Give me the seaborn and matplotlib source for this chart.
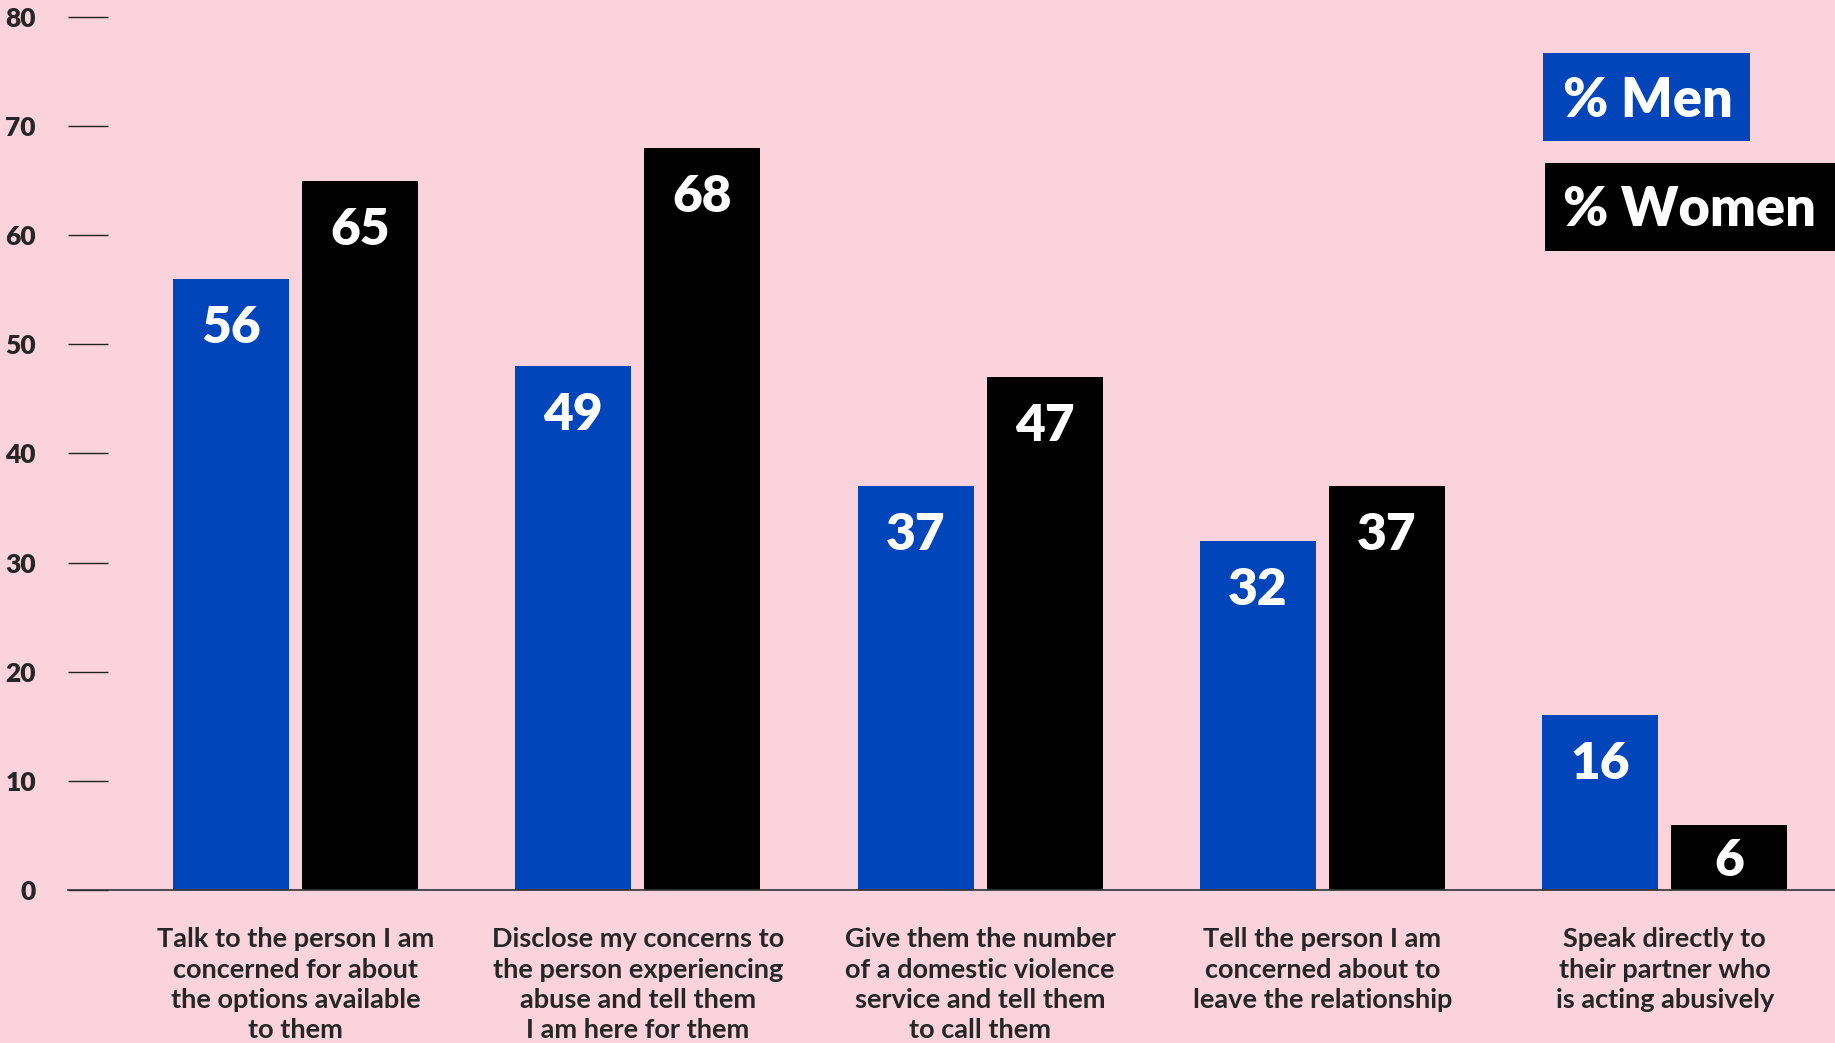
import pandas as pd
import seaborn as sns
import matplotlib.pyplot as plt
from matplotlib.patches import Rectangle

# chart data
actions = [
    "Talk to the person I am\nconcerned for about\nthe options available\nto them",
    "Disclose my concerns to\nthe person experiencing\nabuse and tell them\nI am here for them",
    "Give them the number\nof a domestic violence\nservice and tell them\nto call them",
    "Tell the person I am\nconcerned about to\nleave the relationship",
    "Speak directly to\ntheir partner who\nis acting abusively",
]
# bar heights as drawn in the picture (the 49 bar is drawn at about 48)
men = [56, 48, 37, 32, 16]
women = [65, 68, 47, 37, 6]
# numbers printed on the bars
men_labels = ["56", "49", "37", "32", "16"]
women_labels = ["65", "68", "47", "37", "6"]
groups = ["% Men", "% Women"]
yticks = [0, 10, 20, 30, 40, 50, 60, 70, 80]

PINK = "#FBD3DC"
BLUE = "#0045BA"
BLACK = "#000000"

df = pd.DataFrame({
    "action": actions * 2,
    "pct": men + women,
    "group": [groups[0]] * len(men) + [groups[1]] * len(women),
})

sns.set_style("white")
plt.rcParams["font.family"] = ["Lato", "DejaVu Sans"]

fig = plt.figure(figsize=(18.35, 10.43), dpi=100, facecolor=PINK)
ax = fig.add_axes([0.037, 0.1467, 0.963, 0.837])
ax.set_facecolor(PINK)

sns.barplot(data=df, x="action", y="pct", hue="group", palette=[BLUE, BLACK],
            width=0.754, gap=0.1, saturation=1, legend=False, ax=ax,
            edgecolor="none", linewidth=0)

ax.set_ylim(0, 80)
ax.set_xlim(-0.665, 4.497)
ax.set_xlabel("")
ax.set_ylabel("")
ax.set_yticks(yticks)
ax.tick_params(axis="y", left=True, direction="in", length=29, width=1.0,
               color="#222222", pad=23, labelsize=19)
ax.tick_params(axis="x", bottom=False, length=0, pad=27, labelsize=19.5)
for lab in ax.get_yticklabels():
    lab.set_fontweight("heavy")
for lab in ax.get_xticklabels():
    lab.set_fontweight("bold")
    lab.set_linespacing(1.31)
    lab.set_verticalalignment("top")

sns.despine(ax=ax, left=True)
ax.spines["bottom"].set_color("#333333")
ax.spines["bottom"].set_linewidth(1.2)

# value labels inside the bars
for cont, vals, labs in zip(ax.containers, [men, women], [men_labels, women_labels]):
    for bar, v, t in zip(cont, vals, labs):
        y = max(v - 4.5, v / 2 - 0.3)
        ax.text(bar.get_x() + bar.get_width() / 2, y, t, color="white",
                ha="center", va="center", fontsize=37, fontweight="heavy")

# legend boxes
fig.patches.append(Rectangle((0.8409, 0.8648), 0.1128, 0.0844, transform=fig.transFigure,
                             facecolor=BLUE, edgecolor="none"))
fig.patches.append(Rectangle((0.842, 0.7593), 0.158, 0.0844, transform=fig.transFigure,
                             facecolor=BLACK, edgecolor="none"))
fig.text(0.8518, 0.903, groups[0], color="white", fontsize=39, fontweight="heavy", va="center")
fig.text(0.8518, 0.799, groups[1], color="white", fontsize=39, fontweight="heavy", va="center")

fig.savefig("out.png", dpi=100, facecolor=PINK)
